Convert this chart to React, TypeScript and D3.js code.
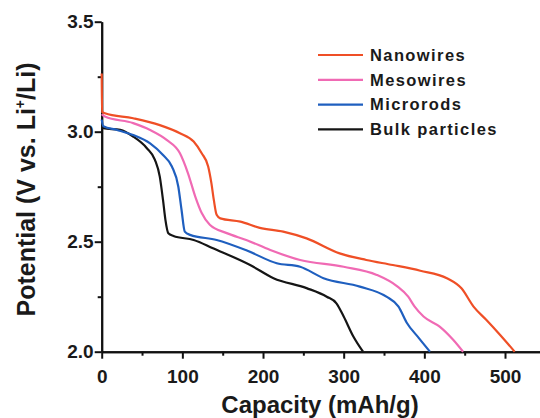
import React, { useEffect, useRef } from 'react';
import * as d3 from 'd3';

// discharge curves
const nanoCap = [0, 0.5, 4, 39, 72, 97, 114, 124, 132, 136, 139, 142.5, 147, 172, 196, 225, 254, 295, 328, 361, 395, 428, 446, 461, 477, 494, 512];
const nanoV = [3.265, 3.09, 3.084, 3.061, 3.03, 2.993, 2.955, 2.902, 2.842, 2.766, 2.69, 2.622, 2.606, 2.591, 2.563, 2.546, 2.515, 2.447, 2.417, 2.394, 2.368, 2.334, 2.288, 2.205, 2.144, 2.076, 2.0];

const mesoCap = [0, 4, 39, 60, 80.5, 97, 107, 116, 124, 134, 155, 180, 209, 246, 300, 341, 366, 380, 388, 399, 419, 436, 448];
const mesoV = [3.08, 3.069, 3.039, 3.008, 2.963, 2.902, 2.811, 2.705, 2.63, 2.577, 2.539, 2.507, 2.462, 2.417, 2.386, 2.349, 2.298, 2.25, 2.205, 2.16, 2.114, 2.053, 2.0];

const microCap = [0, 2, 19, 39, 60, 76, 87, 95, 99, 103, 109.5, 142.5, 180, 217, 246, 275, 320, 353, 368, 378, 393, 407];
const microV = [3.055, 3.025, 3.008, 2.985, 2.947, 2.894, 2.842, 2.75, 2.644, 2.546, 2.531, 2.508, 2.46, 2.402, 2.386, 2.334, 2.296, 2.25, 2.205, 2.133, 2.063, 2.0];

const bulkCap = [0, 2, 23, 39, 56, 66, 72, 76, 79, 82.6, 89, 114, 138, 184, 213, 254, 279, 291, 300, 312, 324];
const bulkV = [3.02, 3.016, 3.008, 2.978, 2.925, 2.872, 2.796, 2.69, 2.599, 2.538, 2.526, 2.508, 2.47, 2.394, 2.334, 2.289, 2.25, 2.22, 2.16, 2.069, 2.0];

const seriesNames = ['Nanowires', 'Mesowires', 'Microrods', 'Bulk particles'];
const seriesColors = ['#ef4f26', '#f06ab4', '#1f5fbf', '#151515'];

const xMajor = [0, 100, 200, 300, 400, 500];
const xMinor = [50, 150, 250, 350, 450];
const yMajor = [2.0, 2.5, 3.0, 3.5];
const yMinor = [2.25, 2.75, 3.25];

const App = () => {
  const ref = useRef<SVGSVGElement>(null);

  useEffect(() => {
    const width = 540;
    const height = 418;
    const font = "Arial, 'Liberation Sans', sans-serif";
    const svg = d3.select(ref.current)
      .attr('width', width)
      .attr('height', height);
    svg.selectAll('*').remove();

    const x = d3.scaleLinear().domain([0, 545]).range([101.7, 541.3]);
    const y = d3.scaleLinear().domain([2.0, 3.5]).range([351.7, 21.7]);

    const styleAxis = (g: any) => {
      g.selectAll('path').attr('stroke', '#111').attr('stroke-width', 2);
      g.selectAll('line').attr('stroke', '#111').attr('stroke-width', 2);
      g.selectAll('text')
        .attr('font-family', font)
        .attr('font-weight', 'bold')
        .attr('font-size', 19)
        .attr('fill', '#1a1a1a');
    };

    // minor ticks first, main axes over them
    svg.append('g')
      .attr('transform', `translate(0,${y(2.0)})`)
      .call(d3.axisBottom(x).tickValues(xMinor).tickSize(4).tickSizeOuter(0).tickFormat(() => ''))
      .call(styleAxis);
    svg.append('g')
      .attr('transform', `translate(${x(0)},0)`)
      .call(d3.axisLeft(y).tickValues(yMinor).tickSize(4).tickSizeOuter(0).tickFormat(() => ''))
      .call(styleAxis);

    const xAxis = svg.append('g')
      .attr('transform', `translate(0,${y(2.0)})`)
      .call(d3.axisBottom(x).tickValues(xMajor).tickSize(7).tickSizeOuter(0).tickFormat(d3.format('d')))
      .call(styleAxis);
    xAxis.selectAll('text').attr('y', 31.5).attr('dy', 0);

    svg.append('g')
      .attr('transform', `translate(${x(0)},0)`)
      .call(d3.axisLeft(y).tickValues(yMajor).tickSize(7).tickPadding(1).tickSizeOuter(0).tickFormat(d3.format('.1f')))
      .call(styleAxis);

    // curves
    const caps = [nanoCap, mesoCap, microCap, bulkCap];
    const volts = [nanoV, mesoV, microV, bulkV];
    const line = d3.line<[number, number]>()
      .x(d => x(d[0]))
      .y(d => y(d[1]))
      .curve(d3.curveMonotoneX);

    // draw back to front so nanowires sit on top
    for (let i = caps.length - 1; i >= 0; i--) {
      const pts = caps[i].map((c, j) => [c, volts[i][j]] as [number, number]);
      svg.append('path')
        .datum(pts)
        .attr('d', line)
        .attr('fill', 'none')
        .attr('stroke', seriesColors[i])
        .attr('stroke-width', 2.2)
        .attr('stroke-linejoin', 'round');
    }

    // legend
    const legend = svg.append('g');
    seriesNames.forEach((name, i) => {
      const ly = 55 + i * 24.8;
      legend.append('line')
        .attr('x1', 318).attr('x2', 363)
        .attr('y1', ly).attr('y2', ly)
        .attr('stroke', seriesColors[i])
        .attr('stroke-width', 2.2);
      legend.append('text')
        .attr('x', 370)
        .attr('y', ly + 5.8)
        .attr('font-family', font)
        .attr('font-weight', 'bold')
        .attr('font-size', 16.5)
        .attr('letter-spacing', 1.4)
        .attr('fill', '#1a1a1a')
        .text(name);
    });

    // axis titles
    svg.append('text')
      .attr('x', 320)
      .attr('y', 413)
      .attr('text-anchor', 'middle')
      .attr('font-family', font)
      .attr('font-weight', 'bold')
      .attr('font-size', 24)
      .attr('fill', '#1a1a1a')
      .text('Capacity (mAh/g)');

    const yTitle = svg.append('text')
      .attr('transform', 'translate(35,189.5) rotate(-90)')
      .attr('text-anchor', 'middle')
      .attr('font-family', font)
      .attr('font-weight', 'bold')
      .attr('font-size', 25)
      .attr('fill', '#1a1a1a');
    yTitle.append('tspan').text('Potential (V vs. Li');
    yTitle.append('tspan').attr('dy', -10).attr('font-size', 14).text('+');
    yTitle.append('tspan').attr('dy', 10).text('/Li)');
  }, []);

  return (
    <svg
      ref={ref}
      style={{ position: 'absolute', left: 0, top: 0, background: '#fff' }}
    />
  );
};

export default App;
